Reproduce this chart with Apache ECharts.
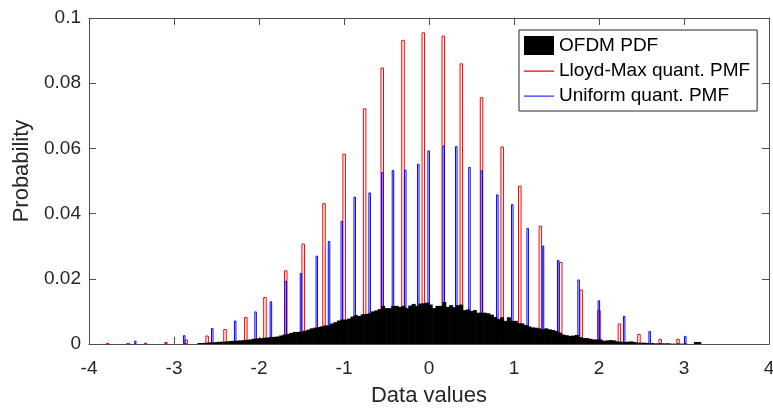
<!DOCTYPE html>
<html>
<head>
<meta charset="utf-8">
<script src="https://cdn.jsdelivr.net/npm/echarts@6/dist/echarts.min.js"></script>
<style>
  html, body { margin: 0; padding: 0; background: #fff; }
  #chart { width: 773px; height: 408px; }
</style>
</head>
<body>
<div id="chart"></div>
<script>
// tick labels
const xTickLabels = ['-4', '-3', '-2', '-1', '0', '1', '2', '3', '4']
const yTickLabels = ['0', '0.02', '0.04', '0.06', '0.08', '0.1']

// OFDM histogram: bins of 0.04 starting at -2.70
const histStart = -2.70
const histStep = 0.04
const histY = [
  0.0003, 0.0003, 0.0004, 0.0005, 0.0005, 0.0006, 0.0007, 0.0007, 0.0008, 0.0009,
  0.0010, 0.0010, 0.0011, 0.0012, 0.0013, 0.0014, 0.0016, 0.0017, 0.0018, 0.0019,
  0.0020, 0.0021, 0.0022, 0.0023, 0.0026, 0.0029, 0.0031, 0.0034, 0.0037, 0.0037,
  0.0038, 0.0041, 0.0044, 0.0048, 0.0050, 0.0052, 0.0054, 0.0057, 0.0057, 0.0063,
  0.0067, 0.0072, 0.0075, 0.0075, 0.0078, 0.0084, 0.0089, 0.0086, 0.0091, 0.0092,
  0.0094, 0.0100, 0.0103, 0.0107, 0.0117, 0.0110, 0.0110, 0.0117, 0.0117, 0.0114,
  0.0117, 0.0110, 0.0118, 0.0123, 0.0117, 0.0124, 0.0125, 0.0127, 0.0121, 0.0110,
  0.0117, 0.0117, 0.0129, 0.0114, 0.0119, 0.0113, 0.0119, 0.0121, 0.0104, 0.0106,
  0.0101, 0.0104, 0.0096, 0.0096, 0.0096, 0.0094, 0.0090, 0.0083, 0.0077, 0.0082,
  0.0071, 0.0082, 0.0071, 0.0071, 0.0064, 0.0063, 0.0058, 0.0054, 0.0051, 0.0050,
  0.0048, 0.0045, 0.0048, 0.0045, 0.0043, 0.0040, 0.0035, 0.0029, 0.0027, 0.0025,
  0.0026, 0.0028, 0.0021, 0.0019, 0.0018, 0.0016, 0.0014, 0.0014, 0.0014, 0.0010,
  0.0011, 0.0012, 0.0011, 0.0008, 0.0007, 0.0006, 0.0007, 0.0008, 0.0006, 0.0004,
  0.0004, 0.0004, 0.0003, 0.0003, 0.0002, 0.0002, 0.0002, 0.0002, 0.0002, 0.0001,
  0.0001, 0.0001, 0.0001, 0.0001, 0, 0, 0.0006, 0.0006
]

// Lloyd-Max quantizer levels and PMF
const lloydX = [
  -3.78, -3.54, -3.335, -3.094, -2.855, -2.61, -2.40, -2.155, -1.93, -1.685,
  -1.48, -1.235, -0.998, -0.757, -0.55, -0.306, -0.067, 0.168, 0.38, 0.618,
  0.861, 1.068, 1.31, 1.55, 1.79, 2.0, 2.24, 2.47, 2.72, 2.93
]
const lloydY = [
  0.0002, 0.0002, 0.0004, 0.0006, 0.0014, 0.0026, 0.0046, 0.0083, 0.0144, 0.0226,
  0.0308, 0.0432, 0.0584, 0.0723, 0.0848, 0.0933, 0.0956, 0.0946, 0.0861, 0.0757,
  0.0606, 0.0486, 0.0363, 0.0252, 0.0167, 0.0104, 0.0063, 0.0031, 0.0016, 0.0016
]

// Uniform quantizer levels and PMF
const uniX = [
  -3.455, -2.88, -2.55, -2.28, -2.04, -1.86, -1.686, -1.506, -1.32, -1.176,
  -1.026, -0.874, -0.698, -0.549, -0.424, -0.279, -0.126, -0.004, 0.173, 0.321,
  0.476, 0.62, 0.804, 0.98, 1.161, 1.341, 1.52, 1.76, 1.998, 2.296,
  2.596, 3.015
]
const uniY = [
  0.0010, 0.0027, 0.0049, 0.0072, 0.0100, 0.0131, 0.0194, 0.0218, 0.0271, 0.0316,
  0.0378, 0.0452, 0.0465, 0.0527, 0.0534, 0.0535, 0.0553, 0.0594, 0.0609, 0.0607,
  0.0543, 0.0533, 0.0459, 0.0429, 0.0356, 0.0302, 0.0258, 0.0198, 0.0134, 0.0086,
  0.0040, 0.0025
]

const font = 'Liberation Sans, Arial, Helvetica, sans-serif'
const axisColor = '#4d4d4d'
const textColor = '#262626'
// thin horizontal line icon inside a 30x19 box
const lineIcon = 'path://M0,0h0.01v0.01z M0,9.5h30v1.2h-30z M29.99,18.99h0.01v0.01z'

const chart = echarts.init(document.getElementById('chart'), null, { renderer: 'canvas' })

const baseX = {
  type: 'value',
  min: -4,
  max: 4,
  interval: 1,
  splitLine: { show: false },
}

chart.setOption({
  animation: false,
  backgroundColor: '#fff',
  textStyle: { fontFamily: font },
  grid: { left: 89, right: 4, top: 18, bottom: 64, outerBoundsMode: 'none', containLabel: false },
  legend: {
    orient: 'vertical',
    left: 519,
    top: 30,
    padding: [6, 7, 6, 5],
    itemGap: 6,
    itemWidth: 30,
    itemHeight: 19,
    backgroundColor: '#fff',
    borderColor: '#262626',
    borderWidth: 1,
    textStyle: { fontFamily: font, fontSize: 19, color: '#000' },
    data: [
      { name: 'OFDM PDF', icon: 'rect', itemStyle: { color: '#000', borderWidth: 0 } },
      { name: 'Lloyd-Max quant. PMF', icon: lineIcon, itemStyle: { color: '#ff0000', borderWidth: 0 } },
      { name: 'Uniform quant. PMF', icon: lineIcon, itemStyle: { color: '#3333ff', borderWidth: 0 } },
    ],
  },
  xAxis: [
    {
      ...baseX,
      position: 'bottom',
      name: 'Data values',
      nameLocation: 'middle',
      nameGap: 41,
      nameTextStyle: { fontFamily: font, fontSize: 22, color: textColor },
      axisLine: { onZero: false, lineStyle: { color: axisColor, width: 1 } },
      axisTick: { inside: true, length: 7, lineStyle: { color: axisColor } },
      axisLabel: {
        fontFamily: font,
        fontSize: 19,
        color: textColor,
        margin: 15,
        formatter: (v) => xTickLabels[Math.round(v + 4)],
      },
    },
    {
      ...baseX,
      position: 'top',
      axisLine: { onZero: false, lineStyle: { color: axisColor, width: 1 } },
      axisTick: { inside: true, length: 7, lineStyle: { color: axisColor } },
      axisLabel: { show: false },
    },
    { ...baseX, show: false },
  ],
  yAxis: [
    {
      type: 'value',
      position: 'left',
      min: 0,
      max: 0.1,
      interval: 0.02,
      name: 'Probability',
      nameLocation: 'middle',
      nameGap: 56,
      nameTextStyle: { fontFamily: font, fontSize: 22, color: textColor, padding: [0, 0, 0, 20] },
      splitLine: { show: false },
      axisLine: { show: true, onZero: false, lineStyle: { color: axisColor, width: 1 } },
      axisTick: { show: true, inside: true, length: 7, lineStyle: { color: axisColor } },
      axisLabel: {
        fontFamily: font,
        fontSize: 19,
        color: textColor,
        margin: 8,
        formatter: (v) => yTickLabels[Math.round(v / 0.02)],
      },
    },
    {
      type: 'value',
      position: 'right',
      min: 0,
      max: 0.1,
      interval: 0.02,
      splitLine: { show: false },
      axisLine: { show: true, onZero: false, lineStyle: { color: axisColor, width: 1 } },
      axisTick: { show: true, inside: true, length: 7, lineStyle: { color: axisColor } },
      axisLabel: { show: false },
    },
  ],
  series: [
    {
      name: 'Lloyd-Max quant. PMF',
      type: 'bar',
      xAxisIndex: 1,
      yAxisIndex: 0,
      barWidth: 3.5,
      z: 2,
      itemStyle: { color: 'rgba(255,255,255,0)', borderColor: '#ff0000', borderWidth: 1 },
      data: lloydX.map((x, i) => [x, lloydY[i]]),
    },
    {
      name: 'Uniform quant. PMF',
      type: 'bar',
      xAxisIndex: 2,
      yAxisIndex: 0,
      barWidth: 2.5,
      z: 3,
      itemStyle: { color: 'rgba(255,255,255,0)', borderColor: '#0000ff', borderWidth: 1 },
      data: uniX.map((x, i) => [x, uniY[i]]),
    },
    {
      name: 'OFDM PDF',
      type: 'bar',
      xAxisIndex: 0,
      yAxisIndex: 0,
      barWidth: 4,
      z: 4,
      itemStyle: { color: '#000' },
      data: histY.map((v, i) => [histStart + i * histStep, v]),
    },
  ],
})

window.addEventListener('resize', () => chart.resize())
</script>
</body>
</html>
